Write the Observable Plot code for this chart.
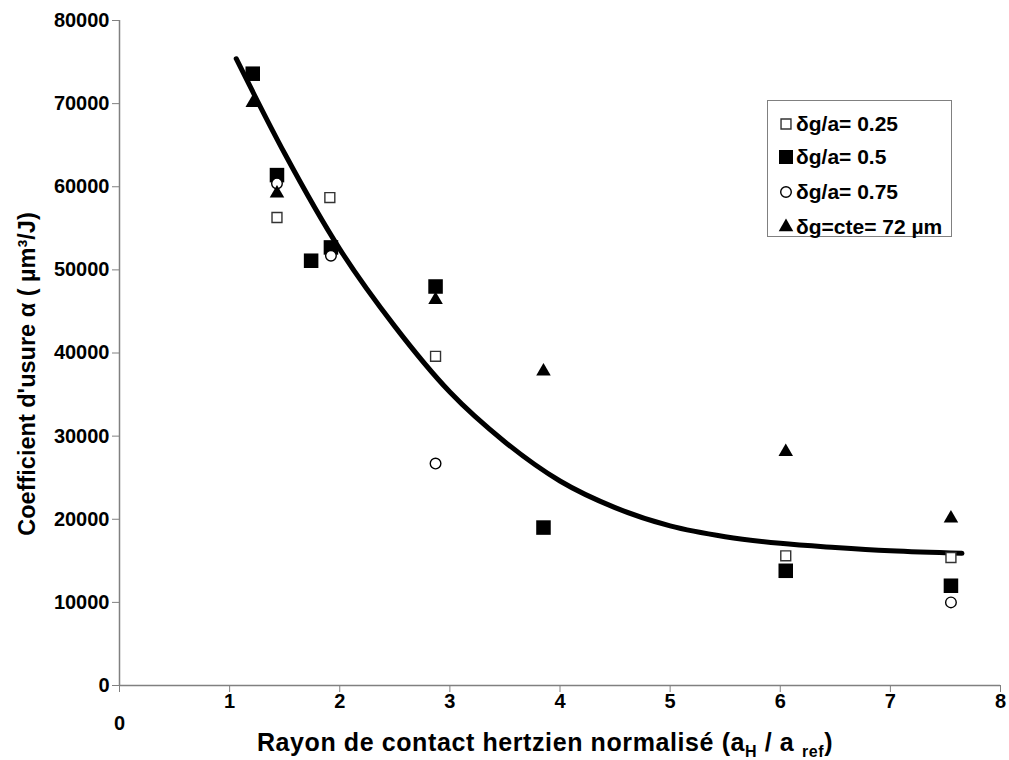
<!DOCTYPE html>
<html><head><meta charset="utf-8">
<script src="https://cdn.jsdelivr.net/npm/d3@7"></script>
<script src="https://cdn.jsdelivr.net/npm/@observablehq/plot@0.6"></script>
<style>
body{margin:0;background:#fff;font-family:"Liberation Sans",Arial,sans-serif;}
#wrap{position:relative;width:1009px;height:760px;overflow:hidden;}
#legend{position:absolute;left:767px;top:100px;width:185px;height:137px;border:1.5px solid #808080;background:#fff;box-sizing:border-box;}
.lrow{position:absolute;left:0;height:30px;display:flex;align-items:center;font-weight:bold;font-size:21px;color:#000;white-space:nowrap;}
.lrow svg{width:20px;height:30px;margin-left:8px;margin-right:0;}
</style></head><body><div id="wrap"></div>
<script>
// ---- data ----
const xTickValues = [1, 2, 3, 4, 5, 6, 7, 8];
const xZeroTick = [0];
const yTickValues = [0, 10000, 20000, 30000, 40000, 50000, 60000, 70000, 80000];

const seriesLabels = ["δg/a= 0.25", "δg/a= 0.5", "δg/a= 0.75", "δg=cte= 72 µm"];
const yTitle = "Coefficient d'usure α ( µm³/J)";
const xTitleParts = [["Rayon de contact hertzien normalisé (a", false], ["H", true], [" / a ", false], ["ref", true], [")", false]];

const x025 = [1.43, 1.91, 2.87, 6.05, 7.55];
const y025 = [56300, 58700, 39600, 15600, 15400];

const x050 = [1.21, 1.43, 1.74, 1.92, 2.87, 3.85, 6.05, 7.55];
const y050 = [73600, 61400, 51100, 52700, 48000, 19000, 13800, 12000];

const x075 = [1.43, 1.92, 2.87, 7.55];
const y075 = [60400, 51700, 26700, 10000];

const xCte = [1.21, 1.43, 2.87, 3.85, 6.05, 7.55];
const yCte = [70100, 59200, 46400, 37800, 28100, 20100];

// trend curve, points
const curveX = [1.06, 1.5, 2.0, 2.5, 3.0, 3.5, 4.0, 4.5, 5.0, 5.5, 6.0, 6.5, 7.0, 7.65];
const curveY = [75400, 64000, 52500, 43200, 35300, 29300, 24600, 21400, 19200, 17900, 17100, 16600, 16200, 15900];

// ---- build tables ----
const pts = (xs, ys) => xs.map((x, i) => ({x, y: ys[i]}));
const d025 = pts(x025, y025), d050 = pts(x050, y050), d075 = pts(x075, y075), dCte = pts(xCte, yCte);
const curve = pts(curveX, curveY);

const font = {fontFamily: "Liberation Sans, Arial, sans-serif", fontWeight: "bold", fontSize: 20};

const chart = Plot.plot({
  width: 1009,
  height: 760,
  marginLeft: 119,
  marginRight: 9,
  marginTop: 20,
  marginBottom: 75,
  style: {background: "#fff", fontFamily: "Liberation Sans, Arial, sans-serif"},
  x: {domain: [0, 8]},
  y: {domain: [0, 80000]},
  marks: [
    Plot.ruleX([0], {stroke: "#808080", strokeWidth: 1.5}),
    Plot.ruleY([0], {stroke: "#808080", strokeWidth: 1.5}),
    Plot.axisY(yTickValues, {tickSize: 7, tickPadding: 3, stroke: "#808080", fill: "#000", tickFormat: d => String(d), label: null, ...font}),
    Plot.axisX(xTickValues, {tickSize: 7, tickPadding: 1, stroke: "#808080", fill: "#000", tickFormat: d => String(d), label: null, ...font}),
    Plot.axisX(xZeroTick, {tickSize: 7, tickPadding: 23, stroke: "#808080", fill: "#000", tickFormat: d => String(d), label: null, ...font}),
    Plot.line(curve, {x: "x", y: "y", curve: "monotone-x", stroke: "#000", strokeWidth: 5}),
    Plot.dot(d025, {x: "x", y: "y", symbol: "square", r: 5.6, fill: "#fff", stroke: "#333", strokeWidth: 1.4}),
    Plot.dot(d050, {x: "x", y: "y", symbol: "square", r: 8.2, fill: "#000", stroke: "none"}),
    Plot.dot(d075, {x: "x", y: "y", symbol: "circle", r: 5.3, fill: "#fff", stroke: "#000", strokeWidth: 1.4}),
    Plot.dot(dCte, {x: "x", y: "y", symbol: "triangle", r: 5.4, fill: "#000", stroke: "none"})
  ]
});

const wrap = document.getElementById("wrap");
wrap.appendChild(chart);

// axis titles as SVG text
const svg = d3.select(chart);
svg.append("text")
  .attr("transform", "translate(27,374) rotate(-90)")
  .attr("text-anchor", "middle")
  .attr("dy", "0.35em")
  .attr("font-family", "Liberation Sans, Arial, sans-serif")
  .attr("font-weight", "bold")
  .attr("font-size", 23.5)
  .attr("fill", "#000")
  .style("text-anchor", "middle")
  .text(yTitle);

const xt = svg.append("text")
  .attr("x", 545).attr("y", 751)
  .attr("text-anchor", "middle")
  .attr("font-family", "Liberation Sans, Arial, sans-serif")
  .attr("font-weight", "bold")
  .attr("font-size", 25)
  .attr("letter-spacing", 0.6)
  .attr("fill", "#000");
xTitleParts.forEach(([t, sub], i) => {
  const prevSub = i > 0 && xTitleParts[i - 1][1];
  const ts = xt.append("tspan").text(t);
  if (sub) ts.attr("font-size", 16);
  ts.attr("dy", sub && !prevSub ? 6 : (!sub && prevSub ? -6 : 0));
});

// legend
const legendStyles = [
  {sym: d3.symbolSquare, r: 5.6, fill: "#fff", stroke: "#333"},
  {sym: d3.symbolSquare, r: 7.9, fill: "#000", stroke: "none"},
  {sym: d3.symbolCircle, r: 5.3, fill: "#fff", stroke: "#000"},
  {sym: d3.symbolTriangle, r: 5.4, fill: "#000", stroke: "none"}
];
const rowTops = [8, 41, 76, 111];
const leg = document.createElement("div");
leg.id = "legend";
seriesLabels.forEach((lab, i) => {
  const s = legendStyles[i];
  const row = document.createElement("div");
  row.className = "lrow";
  row.style.top = rowTops[i] + "px";
  const path = d3.symbol(s.sym, Math.PI * s.r * s.r)();
  row.innerHTML = `<svg viewBox="-10 -15 20 30"><path d="${path}" fill="${s.fill}" stroke="${s.stroke}" stroke-width="1.4"/></svg><span>${lab}</span>`;
  leg.appendChild(row);
});
wrap.appendChild(leg);
</script></body></html>
